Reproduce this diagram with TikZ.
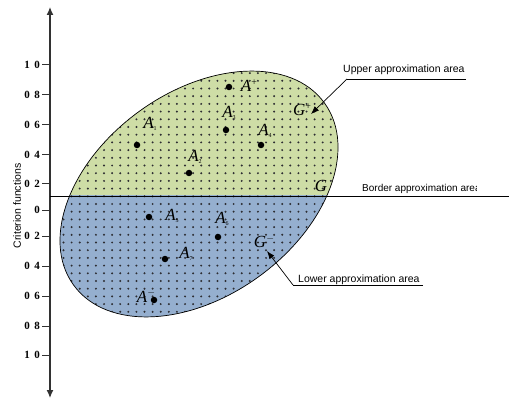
\documentclass[tikz,border=0pt]{standalone}
\usepackage{fontspec}
\setmainfont{Liberation Serif}
\setsansfont{Liberation Sans}
\usetikzlibrary{arrows.meta}
\definecolor{upfill}{RGB}{206,221,166}
\definecolor{lowfill}{RGB}{149,175,207}
\definecolor{dotc}{RGB}{45,45,50}
\definecolor{axc}{RGB}{50,50,50}
\newcommand\sbs[1]{\raisebox{-0.35ex}{\fontsize{6}{6}\selectfont\upshape #1}}
\newcommand\sps[1]{\raisebox{0.8ex}{\fontsize{10}{10}\selectfont\upshape #1}}
\begin{document}
\begin{tikzpicture}[x=1pt,y=-1pt,
  blob/.style={rotate around={36:(199,194)}, insert path={(199,194) ellipse [x radius=155, y radius=102]}},
  lab/.style={font=\fontsize{17}{17}\selectfont\itshape, inner sep=0},
  ticklab/.style={font=\fontsize{11}{11}\selectfont\bfseries, anchor=east, inner sep=0},
  pt/.style={fill=black, circle, inner sep=0, minimum size=6.5pt},
  note/.style={font=\sffamily\fontsize{10.5}{11}\selectfont, inner sep=0, anchor=base west},
  leader/.style={draw=black, line width=0.7pt},
  tip/.style={-{Latex[length=8pt,width=6pt]}},
]
\useasboundingbox (0,0) rectangle (509,401);
% fills
\begin{scope}
  \clip (0,0) rectangle (509,196);
  \fill[upfill, blob];
\end{scope}
\begin{scope}
  \clip (0,196) rectangle (509,401);
  \fill[lowfill, blob];
\end{scope}
% dot pattern
\begin{scope}
  \clip[blob];
  \foreach \i in {0,...,36}{
    \foreach \j in {0,...,33}{
      \fill[dotc] ({55.4+8.1*\i},{65.4+7.7*\j}) circle (1.1);
    }
  }
\end{scope}
\draw[line width=0.7pt, blob];

% axis
\coordinate (axtop) at (50,7);
\coordinate (axbot) at (50,398);
\coordinate (axmid) at (50,200);
\draw[axc, line width=1.2pt, -{Latex[length=8pt,width=7pt]}] (axmid) -- (axtop);
\draw[axc, line width=1.2pt, -{Latex[length=8pt,width=7pt]}] (axmid) -- (axbot);
\foreach \y/\p/\q/\n in {65/1/0/a,95/0/8/b,125/0/6/c,155/0/4/d,184/0/2/e,236/0/2/g,266/0/4/h,296/0/6/i,326/0/8/j,355/1/0/k}{
  \coordinate (tk\n) at (50,\y);
  \draw[axc, line width=1pt] (tk\n) -- ++(-8,0) coordinate (tl\n);
  \node[ticklab] (lab\n) at ([xshift=-2pt]tl\n) {\p\hspace{4.5pt}\q};
}
\coordinate (tkf) at (50,210);
\draw[axc, line width=1pt] (tkf) -- ++(-8,0) coordinate (tlf);
\node[ticklab] (labf) at ([xshift=-2pt]tlf) {0};
\node[font=\sffamily\fontsize{10.5}{11}\selectfont, rotate=90, inner sep=0] (crit) at (17,206) {Criterion functions};

% border line
\coordinate (bl) at (50,196);
\coordinate (br) at (509,196);
\draw[line width=0.8pt] (bl) -- (br);
\begin{scope}
  \clip (300,178) rectangle (476,195);
  \node[note, font=\sffamily\fontsize{10}{11}\selectfont] (border) at (362,192) {Border approximation area};
\end{scope}

% points
\node[pt] (pAp) at (229,87) {};
\node[pt] (p1) at (137,145) {};
\node[pt] (p2) at (189,173) {};
\node[pt] (p3) at (226,130) {};
\node[pt] (p4) at (261,145) {};
\node[pt] (p5) at (149,217) {};
\node[pt] (p6) at (218,237) {};
\node[pt] (p7) at (165,259) {};
\node[pt] (pAm) at (154,300) {};

\node[lab] (lAp) at (249,86) {A\sps{+}};
\node[lab] (l1) at (150,124) {A\sbs{1}};
\node[lab] (l2) at (195,157) {A\sbs{2}};
\node[lab] (l3) at (229,113) {A\sbs{3}};
\node[lab] (l4) at (265,131) {A\sbs{4}};
\node[lab] (l5) at (172,216) {A\sbs{5}};
\node[lab] (l6) at (222,219) {A\sbs{6}};
\node[lab] (l7) at (186,254) {A\sbs{7}};
\node[lab] (lAm) at (146,296) {A\sps{$-$}};

\node[lab] (gp) at (302,110) {G\sps{+}};
\node[lab] (gm) at (264,242) {G\sps{$-$}};
\node[lab] (g0) at (321,186) {G};

% upper note
\node[note] (upper) at (343,73) {Upper approximation area};
\coordinate (ua) at (347,79);
\coordinate (ub) at (466,79);
\coordinate (utip) at (311,114);
\draw[leader] (ub) -- (ua);
\draw[leader, tip] (ua) -- (utip);

% lower note
\node[note] (lower) at (298,282) {Lower approximation area};
\coordinate (la) at (293,285);
\coordinate (lb) at (423,285);
\coordinate (ltip) at (267,251);
\draw[leader] (lb) -- (la);
\draw[leader, tip] (la) -- (ltip);
\end{tikzpicture}
\end{document}
